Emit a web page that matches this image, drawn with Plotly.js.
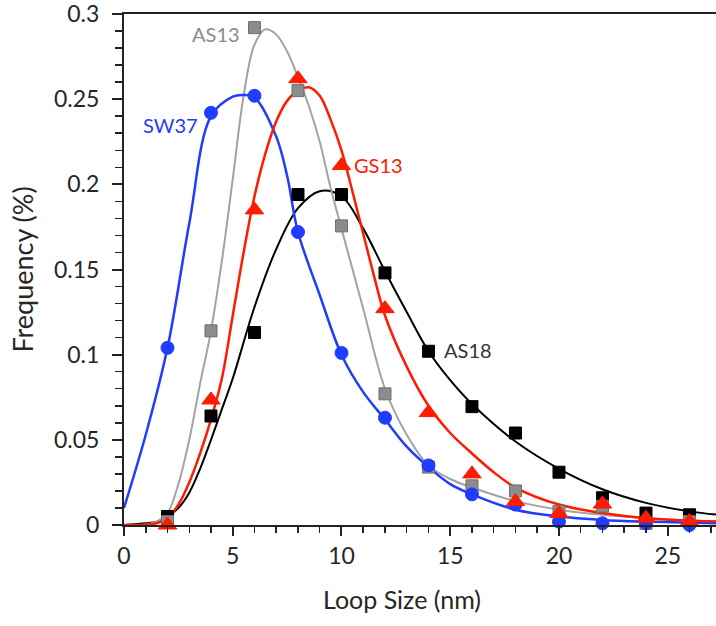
<!DOCTYPE html>
<html>
<head>
<meta charset="utf-8">
<script src="https://cdn.plot.ly/plotly-3.0.1.min.js"></script>
<style>html,body{margin:0;padding:0;background:#fff;}#chart{width:716px;height:626px;}</style>
</head>
<body>
<div id="chart"></div>
<script>
// Measured data points (loop size in nm vs frequency)
const ptX = [2, 4, 6, 8, 10, 12, 14, 16, 18, 20, 22, 24, 26];
const sw37Pts = [0.104, 0.242, 0.252, 0.172, 0.101, 0.063, 0.035, 0.018, 0.012, 0.002, 0.001, 0.001, 0.0];
const as13Pts = [0.002, 0.114, 0.292, 0.255, 0.1756, 0.077, 0.034, 0.023, 0.020, 0.008, 0.011, 0.001, 0.002];
const gs13Pts = [0.0, 0.0734, 0.185, 0.262, 0.211, 0.127, 0.066, 0.030, 0.0137, 0.0068, 0.0123, 0.004, 0.002];
const as18Pts = [0.005, 0.064, 0.113, 0.194, 0.194, 0.148, 0.102, 0.0695, 0.054, 0.031, 0.016, 0.007, 0.006];

// Fitted curves
const sw37FitX = [0, 1, 2, 3, 4, 5, 5.5, 6, 7, 7.5, 8, 9, 10, 11, 12, 13, 14, 15, 16, 18, 20, 22, 24, 27.3];
const sw37FitY = [0.010, 0.053, 0.104, 0.177, 0.240, 0.2515, 0.2525, 0.251, 0.228, 0.205, 0.172, 0.135, 0.100, 0.078, 0.062, 0.046, 0.034, 0.024, 0.018, 0.009, 0.005, 0.003, 0.002, 0.001];

const as13FitX = [0, 1, 1.5, 2, 2.5, 3, 3.5, 4, 4.5, 5, 5.5, 6, 6.5, 7, 7.5, 8, 8.5, 9, 9.5, 10, 11, 12, 13, 14, 15, 16, 18, 20, 22, 24, 27.3];
const as13FitY = [0, 0.0003, 0.002, 0.007, 0.024, 0.050, 0.083, 0.114, 0.155, 0.203, 0.252, 0.282, 0.291, 0.288, 0.278, 0.263, 0.246, 0.225, 0.198, 0.174, 0.127, 0.080, 0.053, 0.035, 0.027, 0.022, 0.014, 0.009, 0.006, 0.004, 0.002];

const gs13FitX = [0, 1, 1.5, 2, 2.5, 3, 3.5, 4, 4.5, 5, 5.5, 6, 6.5, 7, 7.5, 8, 8.5, 9, 9.5, 10, 10.5, 11, 11.5, 12, 13, 14, 15, 16, 17, 18, 20, 22, 24, 27.3];
const gs13FitY = [0, 0.0002, 0.001, 0.004, 0.012, 0.025, 0.042, 0.062, 0.086, 0.123, 0.160, 0.193, 0.218, 0.237, 0.249, 0.255, 0.257, 0.252, 0.238, 0.220, 0.196, 0.171, 0.146, 0.123, 0.093, 0.070, 0.054, 0.042, 0.031, 0.022, 0.012, 0.007, 0.004, 0.002];

const as18FitX = [0, 1, 1.5, 2, 2.5, 3, 3.5, 4, 4.5, 5, 6, 7, 8, 9, 10, 11, 12, 13, 14, 15, 16, 18, 20, 22, 24, 26, 27.3];
const as18FitY = [0, 0.001, 0.002, 0.005, 0.010, 0.019, 0.033, 0.050, 0.068, 0.086, 0.128, 0.162, 0.186, 0.196, 0.193, 0.174, 0.149, 0.125, 0.102, 0.085, 0.071, 0.049, 0.033, 0.021, 0.013, 0.008, 0.006];

// Series labels and where they sit
const labels = ["AS13", "SW37", "GS13", "AS18"];
const labelX = [4.21, 2.16, 11.68, 15.82];
const labelY = [0.288, 0.235, 0.2114, 0.1028];

const yTickVals = [0, 0.05, 0.1, 0.15, 0.2, 0.25, 0.3];
const yTickText = ["0", "0.05", "0.1", "0.15", "0.2", "0.25", "0.3"];
const xTickVals = [0, 5, 10, 15, 20, 25];
const xTickText = ["0", "5", "10", "15", "20", "25"];

const BLUE = "#1f3cff", GRAY = "#8c8c8c", GRAYLINE = "#a3a3a3", RED = "#ff1a00", BLACK = "#000000";
const FONT = "Lato, 'Open Sans', sans-serif";

function line(x, y, color, w) {
  return {x: x, y: y, type: "scatter", mode: "lines", line: {color: color, width: w, shape: "spline", smoothing: 1}, hoverinfo: "skip", showlegend: false};
}
function pts(x, y, color, symbol, size, lineColor) {
  return {x: x, y: y, type: "scatter", mode: "markers", cliponaxis: false,
    marker: {color: color, symbol: symbol, size: size, line: {color: lineColor || color, width: 1}}, showlegend: false};
}

const data = [
  line(as18FitX, as18FitY, BLACK, 2),
  line(as13FitX, as13FitY, GRAYLINE, 2),
  line(sw37FitX, sw37FitY, BLUE, 2.5),
  line(gs13FitX, gs13FitY, RED, 2.5),
  pts(ptX, as18Pts, BLACK, "square", 12),
  pts(ptX, as13Pts, GRAY, "square", 12, "#6e6e6e"),
  pts(ptX, sw37Pts, BLUE, "circle", 13),
  pts(ptX, gs13Pts, RED, "triangle-up", 16)
];

const labelColors = ["#8c8c8c", BLUE, RED, "#333333"];
const annotations = labels.map((t, i) => ({
  x: labelX[i], y: labelY[i], xref: "x", yref: "y", text: t, showarrow: false,
  xanchor: "center", yanchor: "middle", font: {family: FONT, size: 20, color: labelColors[i]}
}));

const layout = {
  width: 716, height: 626,
  margin: {l: 124, r: 0, t: 14, b: 101, pad: 0},
  paper_bgcolor: "#ffffff", plot_bgcolor: "#ffffff",
  font: {family: FONT, size: 23, color: "#262626"},
  showlegend: false,
  xaxis: {
    range: [0, 27.22], showgrid: false, zeroline: false,
    showline: true, linecolor: "#222", linewidth: 2, mirror: true,
    ticks: "outside", ticklen: 9, tickwidth: 2, tickcolor: "#222",
    tickvals: xTickVals, ticktext: xTickText, ticklabelstandoff: 0,
    minor: {dtick: 1, ticks: "outside", ticklen: 6, tickwidth: 1.5, tickcolor: "#222", showgrid: false},
    tickfont: {family: FONT, size: 23, color: "#262626"},
    title: {text: "Loop Size (nm)", font: {family: FONT, size: 25, color: "#262626"}, standoff: 24}
  },
  yaxis: {
    range: [0, 0.3], showgrid: false, zeroline: false,
    showline: true, linecolor: "#222", linewidth: 2,
    ticks: "outside", ticklen: 10, tickwidth: 2, tickcolor: "#222",
    tickvals: yTickVals, ticktext: yTickText, ticklabelstandoff: 8,
    ticklabeloverflow: "allow",
    minor: {dtick: 0.01, ticks: "outside", ticklen: 7, tickwidth: 1.5, tickcolor: "#222", showgrid: false},
    tickfont: {family: FONT, size: 23, color: "#262626"},
    title: {text: "Frequency (%)", font: {family: FONT, size: 27, color: "#262626"}, standoff: 12}
  },
  annotations: annotations
};

Plotly.newPlot("chart", data, layout, {displayModeBar: false, staticPlot: true}).then(function (gd) {
  // the reference's x-axis title sits slightly left of the visible plot centre
  const t = gd.querySelector(".g-xtitle text");
  if (t) {
    const x = parseFloat(t.getAttribute("x"));
    t.setAttribute("x", x - 18);
  }
});
</script>
</body>
</html>
